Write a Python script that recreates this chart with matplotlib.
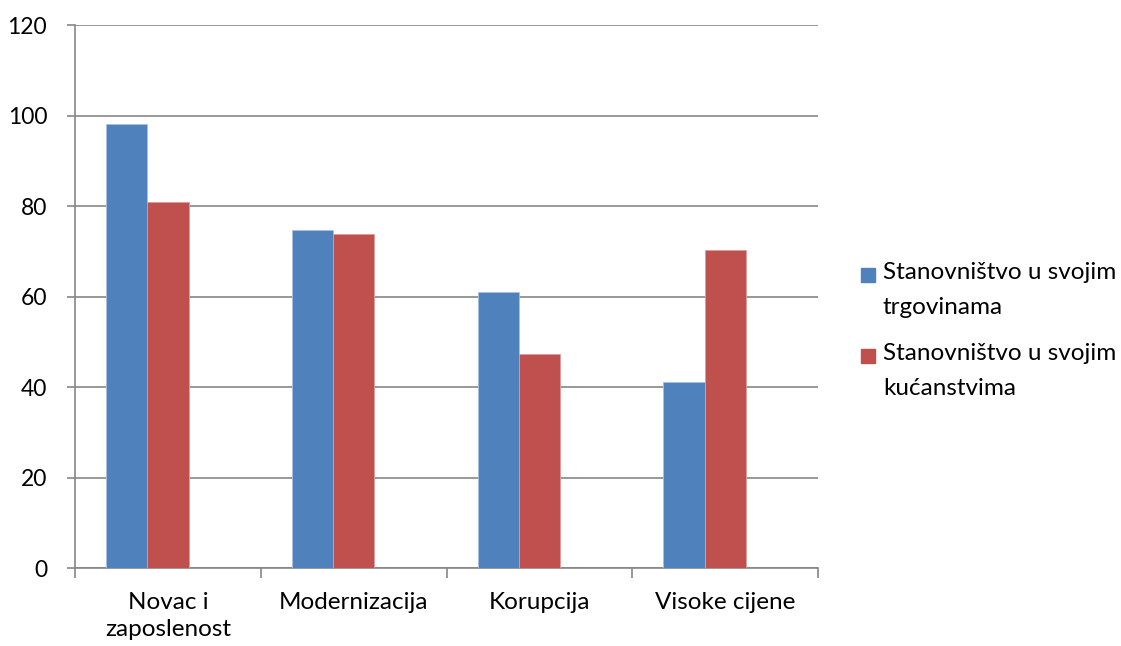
import matplotlib
matplotlib.use('Agg')
import matplotlib.pyplot as plt
import numpy as np
from matplotlib.patches import Rectangle

# data
categories = ['Novac i\nzaposlenost', 'Modernizacija', 'Korupcija', 'Visoke cijene']
trgovine = [98.1, 74.6, 60.9, 41.2]
kucanstva = [80.8, 73.8, 47.4, 70.3]
series_names = ['Stanovništvo u svojim\ntrgovinama', 'Stanovništvo u svojim\nkućanstvima']
yticks = [0, 20, 40, 60, 80, 100, 120]

plt.rcParams['font.family'] = ['Lato', 'DejaVu Sans']
blue = '#4F81BD'
red = '#C0504D'
grid_c = '#868686'

fig = plt.figure(figsize=(11.21, 6.46), dpi=100)
ax = fig.add_axes([0.0669, 0.1207, 0.663, 0.8406])

x = np.arange(len(categories))
w = 1 / 4.5   # Excel layout: 3 slots (one empty) + 150% gap
ax.bar(x - w, trgovine, width=w, color=blue, edgecolor='#a9c1df', linewidth=0.6, zorder=3)
ax.bar(x, kucanstva, width=w, color=red, edgecolor='#dc9c9a', linewidth=0.6, zorder=3)

ax.set_xlim(-0.5, len(categories) - 0.5)
ax.set_ylim(0, 120)
ax.set_yticks(yticks)
ax.yaxis.grid(True, color=grid_c, linewidth=1.2, zorder=0)
ax.set_axisbelow(True)

for s in ['top', 'right']:
    ax.spines[s].set_visible(False)
ax.spines['left'].set_color(grid_c)
ax.spines['left'].set_linewidth(1.2)
ax.spines['bottom'].set_color(grid_c)
ax.spines['bottom'].set_linewidth(1.2)

# category boundary ticks on x axis, labels centered
ax.set_xticks(np.arange(len(categories) + 1) - 0.5)
ax.set_xticklabels([])
ax.set_xticks(x, minor=True)
ax.set_xticklabels(categories, minor=True, fontsize=17.5, linespacing=1.35)
ax.tick_params(axis='x', which='major', length=7, color=grid_c, width=1.2, direction='out')
ax.tick_params(axis='x', which='minor', length=0, pad=17)
ax.tick_params(axis='y', length=6, color=grid_c, width=1.2, labelsize=16.5, pad=14)

# legend drawn by hand (handle aligned to first text line)
lx, ly = 861 / 1121, 1 - 275 / 646
for i, (name, c) in enumerate(zip(series_names, [blue, red])):
    yy = ly - i * (81 / 646)
    fig.patches.append(Rectangle((lx, yy - 7 / 646), 14 / 1121, 14 / 646,
                                 transform=fig.transFigure, color=c))
    fig.text(lx + 22 / 1121, yy + 13 / 646, name, fontsize=17.5, va='top', ha='left',
             linespacing=1.8)

fig.savefig('out.png', dpi=100)
